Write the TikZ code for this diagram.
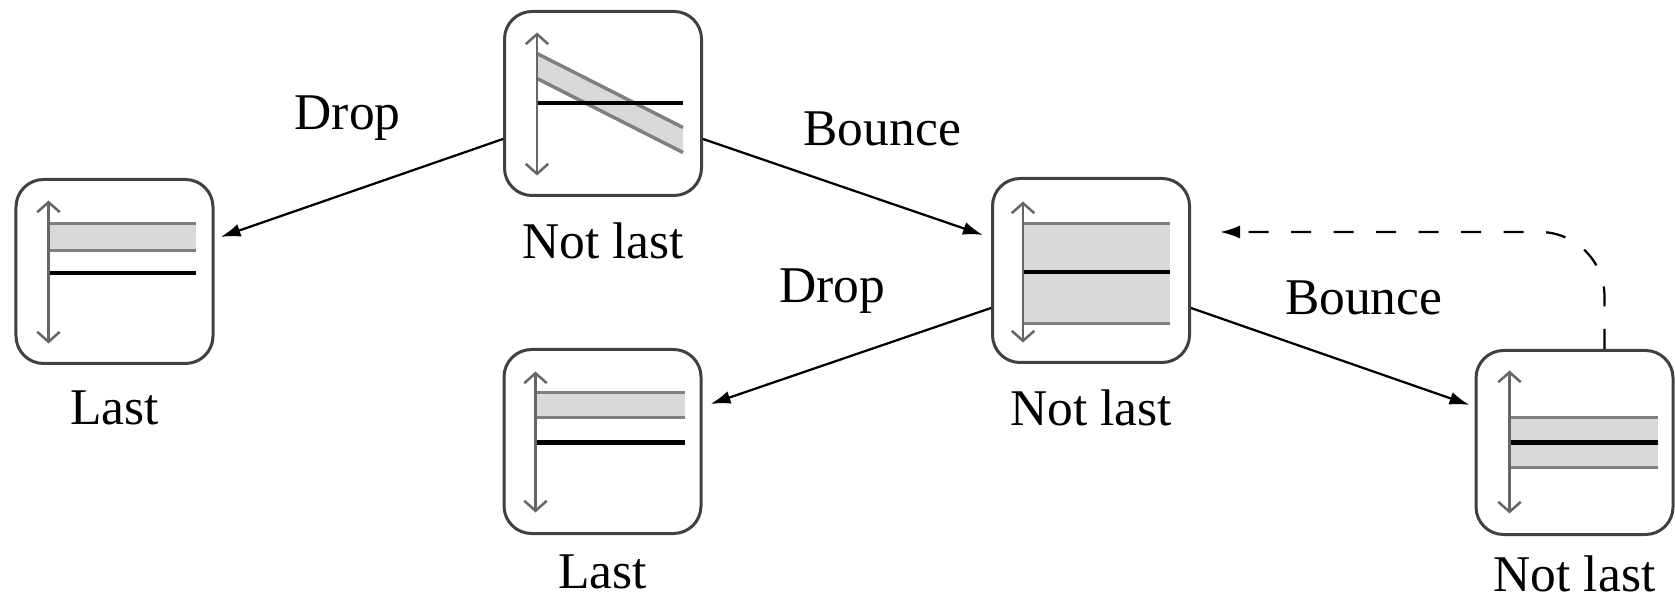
\documentclass[tikz,border=0pt]{standalone}
\usepackage{fontspec}
\setmainfont{Liberation Serif}
\usetikzlibrary{arrows.meta, positioning}

\begin{document}
\begin{tikzpicture}[
  x=0.2pt, y=-0.2pt,
  font=\fontsize{10.3}{12}\selectfont,
  box/.style={draw=black!75, line width=0.6pt, rounded corners=5.5pt,
    minimum width=39.4pt, minimum height=36.8pt, inner sep=0pt},
  tag/.style={inner sep=0pt},
  shade/.style={fill=black!15},
  edge/.style={draw=black!50, line width=0.7pt},
  level/.style={line width=0.8pt},
  axis/.style={{Straight Barb[length=2pt,width=4.5pt]}-{Straight Barb[length=2pt,width=4.5pt]},
    draw=black!60, line width=0.5pt},
  arr/.style={-{Latex[length=4pt,width=2.6pt]}, line width=0.45pt},
  back/.style={arr, dash pattern=on 4pt off 4.5pt}
]
\useasboundingbox (0,0) rectangle (1675,597);

% boxes
\node[box] (start) at (603,103.5) {};
\node[box] (last1) at (114.5,271.5) {};
\node[box] (mid) at (1091,270.5) {};
\node[box] (last2) at (602.5,441.5) {};
\node[box] (again) at (1574.5,442.5) {};

\node[tag, below=5pt of start] (tstart) {Not last};
\node[tag, below=5pt of last1] (tlast1) {Last};
\node[tag, below=5pt of mid] (tmid) {Not last};
\node[tag, below=3.8pt of last2] (tlast2) {Last};
\node[tag, below=3.8pt of again] (tagain) {Not last};

% contents
\begin{scope}[shift={(start.center)}]
  \fill[shade] (-66,-50) -- (80,24) -- (80,49) -- (-66,-25) -- cycle;
  \draw[edge] (-66,-50) -- (80,24) (-66,-25) -- (80,49);
  \draw[level] (-66,0) -- (80,0);
  \draw[axis] (-66,-71) -- (-66,72);
\end{scope}
\begin{scope}[shift={(last1.center)}]
  \fill[shade] (-66,-48) rectangle (81,-21);
  \draw[edge] (-66,-48) -- (81,-48) (-66,-21) -- (81,-21);
  \draw[level] (-66,2) -- (81,2);
  \draw[axis] (-66,-71) -- (-66,72);
\end{scope}
\begin{scope}[shift={(mid.center)}]
  \fill[shade] (-68,-47) rectangle (79,53);
  \draw[edge] (-68,-47) -- (79,-47) (-68,53) -- (79,53);
  \draw[level] (-68,2) -- (79,2);
  \draw[axis] (-68,-69) -- (-68,72);
\end{scope}
\begin{scope}[shift={(last2.center)}]
  \fill[shade] (-67,-49) rectangle (82,-24);
  \draw[edge] (-67,-49) -- (82,-49) (-67,-24) -- (82,-24);
  \draw[level] (-67,1) -- (82,1);
  \draw[axis] (-67,-70) -- (-67,71);
\end{scope}
\begin{scope}[shift={(again.center)}]
  \fill[shade] (-65,-25) rectangle (83,25);
  \draw[edge] (-65,-25) -- (83,-25) (-65,25) -- (83,25);
  \draw[level] (-65,0) -- (83,0);
  \draw[axis] (-65,-72) -- (-65,71);
\end{scope}

% moves
\draw[arr] ([yshift=-7.1pt]start.west) -- node[pos=.55, yshift=15pt] (drop1) {Drop}
  ([xshift=1.2pt, yshift=6.9pt]last1.east);
\draw[arr] ([yshift=-7.1pt]start.east) -- node[pos=.64, yshift=14.3pt] (bounce1) {Bounce}
  ([xshift=-1.6pt, yshift=7.1pt]mid.west);
\draw[arr] ([yshift=-7.5pt]mid.west) -- node[pos=.565, yshift=14.2pt] (drop2) {Drop}
  ([xshift=1.6pt, yshift=7.5pt]last2.east);
\draw[arr] ([yshift=-7.5pt]mid.east) -- node[pos=.62, yshift=14pt] (bounce2) {Bounce}
  ([xshift=-1pt, yshift=7.5pt]again.west);
\draw[back, rounded corners=13pt] ([xshift=6pt]again.north) |- ([xshift=5.8pt, yshift=7.7pt]mid.east);
\end{tikzpicture}
\end{document}
